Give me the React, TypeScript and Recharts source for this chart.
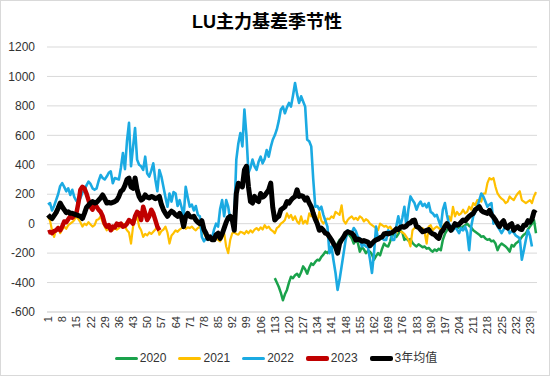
import { LineChart, Line, XAxis, YAxis, CartesianGrid } from 'recharts'

// trading days 1..242
const days = Array.from({ length: 242 }, (_, i) => String(i + 1))

const yTicks = [-600, -400, -200, 0, 200, 400, 600, 800, 1000, 1200]

// 2020 starts at day 113
const start2020 = 113
const s2020 = [
  -370, -400, -430, -470, -520, -480, -450, -400,
  -360, -370, -350, -340, -360, -330, -290, -310, -340, -300,
  -270, -280, -260, -245, -250, -225, -210, -190, -200, -180,
  -170, -155, -165, -135, -110, -120, -100, -90, -65, -80,
  -100, -135, -110, -130, -190, -160, -175, -200, -185, -190,
  -210, -245, -220, -200, -215, -170, -135, -150, -155, -120,
  -65, -80, -90, -70, -45, -60, -110, -100, -115, -105,
  -130, -145, -155, -140, -150, -160, -155, -170, -165, -180,
  -190, -175, -185, -170, -180, -110, -70, -45, -30, -20,
  -40, -25, -35, -20, -30, -20, -10, 0, -15, -25,
  -45, -55, -65, -75, -90, -85, -100, -110, -105, -120,
  -115, -135, -180, -150, -135, -145, -155, -170, -190, -145,
  -155, -135, -125, -110, -90, -75, -65, -40, -20, 0,
  25, -65,
]

const s2021 = [
  50, 20, -45, -90, -40, -20, -65, -40, -20, -35,
  -10, 0, 10, 25, 50, 30, 10, -20, 0, -10,
  10, -5, -20, -10, 25, 30, 50, 10, -20, -45,
  -30, -40, -45, -30, -40, -30, -20, 0, -20, -45,
  -60, -135, -20, 20, 50, -20, -45, -90, -70, -80,
  -60, -70, -55, -40, -20, -75, -50, -40, -20, -60,
  -135, -80, -65, -45, -55, -40, -30, -20, -35, -25,
  -30, -20, -35, -45, -30, -20, -50, -65, -90, -85,
  -110, -95, -100, -100, -110, -120, -90, -65, -155, -200,
  -110, -65, -60, -70, -75, -55, -60, -70, -50, -65,
  -45, -60, -40, -30, -45, -25, -40, -10, -30, -20,
  -40, -50, -65, -30, -20, 0, 10, 25, 70, 40,
  60, 25, 50, 15, 0, 50, 0, 20, 0, 70,
  50, 105, 30, 0, 80, 20, 0, 20, 35, 30,
  50, 40, 80, 70, 60, 125, 20, 0, 25, 40,
  50, 30, 40, 25, 50, 40, 15, 30, 20, 0,
  -10, -20, -30, -45, 0, -10, -20, -15, -30, -20,
  -45, -50, -65, -40, -50, -60, -70, -90, -110, -155,
  -45, -30, -20, -30, -40, -30, -60, -135, -20, -10,
  -45, -30, -20, -30, -45, -20, 0, -10, 50, 20,
  115, 50, 80, 60, 70, 95, 70, 80, 115, 95,
  140, 125, 160, 160, 150, 205, 205, 275, 310, 300,
  310, 250, 205, 185, 170, 160, 140, 150, 185, 170,
  160, 185, 205, 220, 160, 150, 140, 150, 160, 140,
  185, 215,
]

const s2022 = [
  130, 140, 90, 120, 160, 200, 255, 275, 250, 220,
  240, 195, 230, 180, 155, 150, 175, 210, 230, 260,
  285, 270, 240, 230, 240, 290, 330, 310, 300, 320,
  345, 355, 275, 310, 305, 300, 380, 480, 370, 560,
  685, 390, 520, 650, 435, 400, 390, 365, 455, 340,
  320, 360, 410, 300, 220, 365, 320, 250, 180, 115,
  205, 150, 215, 205, 120, 160, 110, 50, 250, 180,
  115, 130, 90, 120, 60, 50, -90, -120, -100, -110,
  -90, -100, -40, 0, -20, 100, 160, 50, 160, 115,
  25, 50, 50, 435, 545, 615, 525, 775, 600, 345,
  380, 435, 390, 365, 420, 455, 410, 440, 500, 455,
  520, 570, 600, 640, 700, 775, 795, 750, 790, 820,
  795, 870, 955, 880, 820, 865, 830, 795, 570, 560,
  525, 300, 115, 120, 95, 115, 60, 20, -20, -200,
  -155, -250, -335, -450, -380, -290, -200, -110, -45, -60,
  -65, -30, -50, -90, -100, -155, -140, -155, -160, -240,
  -335, -200, -20, -110, -90, -100, -110, -110, -45, -60,
  -110, -110, -20, 50, -20, 40, 115, -20, 100, 185,
  160, 140, 95, 130, 150, 120, 135, 110, 140, 80,
  70, 50, 60, 20, -20, 95, 140, 60, 0, -20,
  -45, -20, -40, -65, -30, -45, -20, -60, -180, -20,
  50, 80, 115, 160, 205, 185, 150, 115, 130, 140,
  0, 30, -20, -40, -65, -40, -20, -30, -65, -50,
  -60, -80, -90, -100, -245, -180, -110, -45, -80, -155,
]

const s2023 = [
  -60, -55, -65, -50, -45, -30, -45, -20, 15, 10,
  30, 50, 40, 55, 70, 140, 230, 250, 240, 205,
  160, 115, 95, 140, 115, 95, 80, 50, 0, -20,
  -10, -45, -20, -25, 0, -10, 0, -20, -15, 0,
  25, 15, 0, 50, 80, 70, 25, 115, 70, 25,
  50, 95, 70, 25, -20, -45,
]

const avg3y = [
  60, 45, 35, 55, 75, 105, 140, 115, 95, 75,
  80, 70, 70, 65, 60, 55, 50, 35, 70, 110,
  125, 140, 150, 140, 145, 160, 175, 195, 170, 140,
  145, 140, 145, 150, 160, 185, 220, 230, 260, 300,
  310, 250, 240, 310, 230, 185, 160, 170, 195, 180,
  175, 185, 180, 170, 175, 185, 130, 95, 70, 50,
  70, 85, 75, 60, 50, 70, 40, -20, 50, 70,
  50, 45, 50, 25, 10, 0, 20, -40, -65, -100,
  -90, -110, -110, -75, -65, -100, -70, -30, 10, 40,
  50, 25, -45, 205, 275, 260, 250, 365, 390, 250,
  150, 140, 185, 160, 150, 205, 180, 190, 210, 230,
  275, 110, 25, 40, 50, 95, 105, 115, 150, 140,
  160, 175, 185, 230, 185, 190, 185, 160, 175, 140,
  115, 70, 30, 0, -45, -30, -45, -65, -70, -90,
  -110, -135, -155, -200, -135, -110, -90, -65, -55, -60,
  -65, -80, -110, -105, -110, -120, -115, -120, -125, -150,
  -135, -120, -110, -105, -95, -90, -70, -65, -70, -65,
  -60, -50, -35, -40, -25, -20, -25, -15, 0, 5,
  20, 25, -20, -25, -40, -55, -50, -45, -40, -60,
  -70, -75, -90, -100, -60, -45, -20, 0, -20, -45,
  -25, 0, -10, -5, 10, 25, 20, 35, 50, 60,
  70, 95, 105, 115, 90, 80, 75, 70, 90, 60,
  45, 25, 0, -20, 5, 20, -20, -30, -10, 0,
  -45, -30, -20, -35, -40, -10, -10, 20, 10, 30,
  80, 70,
]

const series = [
  { key: 'y2020', name: '2020', color: '#1AA24B', width: 2.5 },
  { key: 'y2021', name: '2021', color: '#FFC000', width: 2.2 },
  { key: 'y2022', name: '2022', color: '#1BAAE2', width: 2.6 },
  { key: 'y2023', name: '2023', color: '#C00000', width: 4.5 },
  { key: 'avg', name: '3年均值', color: '#000000', width: 5 },
]

const data = days.map((d, i) => ({
  day: d,
  y2020: i + 1 >= start2020 ? s2020[i + 1 - start2020] : null,
  y2021: s2021[i] ?? null,
  y2022: s2022[i] ?? null,
  y2023: s2023[i] ?? null,
  avg: avg3y[i] ?? null,
}))

const font = '"Liberation Sans", Arial, "Noto Sans CJK SC", sans-serif'

function XTick({ x, y, payload }: any) {
  return (
    <text
      x={x}
      y={y}
      transform={`rotate(-90, ${x}, ${y})`}
      textAnchor="end"
      dominantBaseline="central"
      fontSize={11}
      fontFamily={font}
      fill="#333"
    >
      {payload.value}
    </text>
  )
}

export default function App() {
  return (
    <div
      style={{
        position: 'absolute',
        left: 0,
        top: 0,
        width: 550,
        height: 376,
        background: '#fff',
        border: '1px solid #d9d9d9',
        boxSizing: 'border-box',
        fontFamily: font,
      }}
    >
      <div
        style={{
          position: 'absolute',
          top: 10,
          left: 0,
          width: 532,
          textAlign: 'center',
          fontSize: 18,
          fontWeight: 'bold',
          color: '#000',
          lineHeight: '22px',
        }}
      >
        LU主力基差季节性
      </div>
      <div style={{ position: 'absolute', left: -1, top: -1 }}>
        <LineChart
          width={550}
          height={376}
          data={data}
          margin={{ top: 47, right: 13, left: 0, bottom: 24 }}
        >
          <CartesianGrid vertical={false} stroke="#d9d9d9" />
          <XAxis
            dataKey="day"
            interval={6}
            height={40}
            padding={{ left: 1, right: 1 }}
            tickSize={0}
            tickMargin={4}
            axisLine={{ stroke: '#d9d9d9' }}
            tickLine={false}
            tick={<XTick />}
          />
          <YAxis
            width={47}
            domain={[-600, 1200]}
            ticks={yTicks}
            axisLine={false}
            tickLine={false}
            tickSize={0}
            tickMargin={12}
            tick={{ fontSize: 12, fill: '#333', fontFamily: font }}
          />
          {series.map((s) => (
            <Line
              key={s.key}
              dataKey={s.key}
              name={s.name}
              type="linear"
              stroke={s.color}
              strokeWidth={s.width}
              strokeLinejoin="round"
              dot={false}
              activeDot={false}
              isAnimationActive={false}
            />
          ))}
        </LineChart>
      </div>
      <div
        style={{
          position: 'absolute',
          top: 349,
          left: 0,
          width: 550,
          display: 'flex',
          justifyContent: 'center',
          fontSize: 12,
          color: '#333',
          lineHeight: '16px',
        }}
      >
        {series.map((s) => (
          <div key={s.key} style={{ display: 'flex', alignItems: 'center', margin: '0 6px' }}>
            <span
              style={{
                display: 'inline-block',
                width: 23,
                height: s.width >= 4 ? 5 : 3,
                borderRadius: 2,
                background: s.color,
                marginRight: 2,
              }}
            />
            <span>{s.name}</span>
          </div>
        ))}
      </div>
    </div>
  )
}
